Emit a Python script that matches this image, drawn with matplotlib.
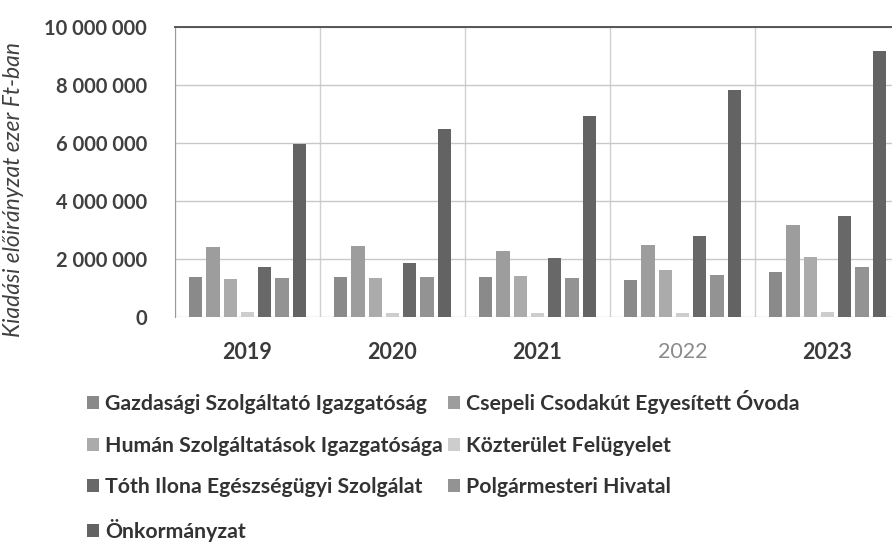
import matplotlib
matplotlib.use("Agg")
import matplotlib.pyplot as plt
import numpy as np
from matplotlib.ticker import FuncFormatter

years = ["2019", "2020", "2021", "2022", "2023"]
series_names = [
    "Gazdasági Szolgáltató Igazgatóság",
    "Csepeli Csodakút Egyesített Óvoda",
    "Humán Szolgáltatások Igazgatósága",
    "Közterület Felügyelet",
    "Tóth Ilona Egészségügyi Szolgálat",
    "Polgármesteri Hivatal",
    "Önkormányzat",
]
gazdasagi = [1390000, 1390000, 1390000, 1280000, 1560000]
csepeli = [2420000, 2460000, 2280000, 2480000, 3170000]
human = [1300000, 1330000, 1410000, 1620000, 2080000]
kozterulet = [180000, 150000, 150000, 130000, 170000]
toth = [1730000, 1860000, 2020000, 2790000, 3480000]
polgarmesteri = [1330000, 1390000, 1330000, 1440000, 1730000]
onkormanyzat = [5950000, 6460000, 6940000, 7820000, 9150000]
yticks = [0, 2000000, 4000000, 6000000, 8000000, 10000000]

series = [gazdasagi, csepeli, human, kozterulet, toth, polgarmesteri, onkormanyzat]
colors = ["#8a8a8a", "#9d9d9d", "#ababab", "#cdcdcd", "#686868", "#939393", "#636363"]

plt.rcParams['font.family'] = ['Lato', 'DejaVu Sans']

fig = plt.figure(figsize=(8.92, 5.46), dpi=100)
W, H = 892, 546
ax = fig.add_axes([175 / W, 1 - 317 / H, 725 / W, 290.3 / H])

x = np.arange(len(years))
slot = 0.119
bw = 0.092
handles = []
for i, (vals, c) in enumerate(zip(series, colors)):
    b = ax.bar(x + (i - 3) * slot, vals, width=bw, color=c, zorder=3, label=series_names[i])
    handles.append(b)

ax.set_xlim(-0.5, len(years) - 0.5)
ax.set_ylim(0, 10000000)
ax.set_yticks(yticks)
ax.yaxis.set_major_formatter(FuncFormatter(lambda v, p: f"{int(v):,}".replace(",", " ")))
ax.tick_params(axis='y', length=0, pad=20, labelsize=14.5, labelcolor="#404040")
ax.tick_params(axis='x', length=0, pad=18, labelsize=15.5)
ax.set_xticks(x)
ax.set_xticklabels(years, fontweight='bold', color="#3a3a3a")
ax.get_xticklabels()[3].set_color("#8a8a8a")
ax.get_xticklabels()[3].set_fontweight('normal')
for lab in ax.get_yticklabels():
    lab.set_fontweight('bold')

ax.grid(axis='y', color="#c8c8c8", linewidth=1, zorder=0)
ax.set_xticks(np.arange(len(years) + 1) - 0.5, minor=True)
ax.grid(axis='x', which='minor', color="#d0d0d0", linewidth=1, zorder=0)
ax.tick_params(axis='x', which='minor', length=0)

for s in ['right', 'bottom']:
    ax.spines[s].set_visible(False)
ax.spines['top'].set_color("#555555")
ax.spines['top'].set_linewidth(1.4)
ax.spines['left'].set_color("#9a9a9a")

ax.set_ylabel("Kiadási előirányzat ezer Ft-ban", fontsize=16.5, style='italic',
              color="#404040", labelpad=10)
ax.yaxis.set_label_coords(-151 / 725, 0.44)

order = [0, 2, 4, 6, 1, 3, 5]
leg = fig.legend([handles[i] for i in order], [series_names[i] for i in order],
                 ncol=2, loc='upper left', bbox_to_anchor=(87 / W, 1 - 390 / H),
                 frameon=False, fontsize=15.3, handlelength=0.55, handleheight=0.55,
                 handletextpad=0.3, columnspacing=0.25, labelspacing=1.02,
                 borderaxespad=0, borderpad=0)
for t in leg.get_texts():
    t.set_color("#333333")
    t.set_fontweight('bold')

fig.savefig("out.png", dpi=100)
